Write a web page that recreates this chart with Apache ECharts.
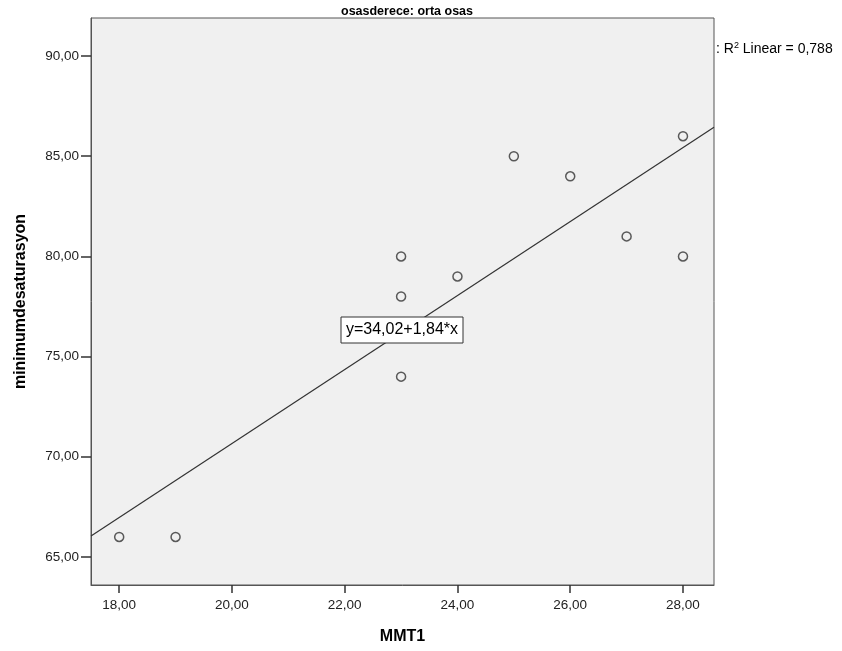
<!DOCTYPE html>
<html>
<head>
<meta charset="utf-8">
<script src="https://cdn.jsdelivr.net/npm/echarts@6/dist/echarts.min.js"></script>
<style>
  html, body { margin: 0; padding: 0; background: #fff; }
  #chart { width: 842px; height: 651px; }
</style>
</head>
<body>
<div id="chart"></div>
<script>
// data
const mmt1 = [18, 19, 23, 23, 23, 24, 25, 26, 27, 28, 28];
const minDesat = [66, 66, 80, 78, 74, 79, 85, 84, 81, 86, 80];
const xTicks = [18, 20, 22, 24, 26, 28];
const yTicks = [65, 70, 75, 80, 85, 90];
// fit line end points (at the plot edges)
const fitX = [17.5, 28.55];
const fitY = [66.05, 86.45];
const fitLabel = 'y=34,02+1,84*x';
const r2Text = '0,788';

const points = mmt1.map((x, i) => [x, minDesat[i]]);
const fitData = fitX.map((x, i) => [x, fitY[i]]);

const fmt = v => v.toFixed(2).replace('.', ',');
const FONT = 'Liberation Sans, Arial, sans-serif';

let chart = echarts.init(document.getElementById('chart'));
chart.setOption({
  animation: false,
  textStyle: { fontFamily: FONT },
  title: {
    text: 'osasderece: orta osas',
    left: 402, top: 0, textAlign: 'center',
    textStyle: { fontSize: 12.5, fontWeight: 'bold', color: '#000' }
  },
  grid: {
    left: 91, right: 128, top: 18, bottom: 66,
    outerBoundsMode: 'none',
    show: true, backgroundColor: '#f0f0f0', borderColor: '#555', borderWidth: 1
  },
  xAxis: {
    type: 'value', min: 17.5, max: 28.55,
    name: 'MMT1', nameLocation: 'middle', nameGap: 44,
    nameTextStyle: { fontSize: 16, fontWeight: 'bold', color: '#000' },
    axisLine: { lineStyle: { color: '#555' } },
    axisTick: { show: true, length: 8, customValues: xTicks, lineStyle: { color: '#333', width: 1.5 } },
    axisLabel: { customValues: xTicks, formatter: fmt, fontSize: 13.5, color: '#222', margin: 13 },
    splitLine: { show: false }
  },
  yAxis: {
    type: 'value', min: 63.6, max: 91.9,
    name: 'minimumdesaturasyon', nameLocation: 'middle', nameGap: 62, nameRotate: 90,
    nameTextStyle: { fontSize: 16, fontWeight: 'bold', color: '#000' },
    axisLine: { show: true, lineStyle: { color: '#555' } },
    axisTick: { show: true, length: 10, customValues: yTicks, lineStyle: { color: '#333', width: 1.5 } },
    axisLabel: { customValues: yTicks, formatter: fmt, fontSize: 13.5, color: '#222', margin: 12 },
    splitLine: { show: false }
  },
  series: [
    {
      type: 'line', data: fitData, symbol: 'none', z: 2,
      lineStyle: { color: '#333', width: 1.2 }
    },
    {
      type: 'scatter', data: points, symbol: 'circle', symbolSize: 9, z: 3,
      itemStyle: { color: 'rgba(0,0,0,0)', borderColor: '#333', borderWidth: 1.5 }
    }
  ],
  graphic: [
    {
      type: 'rect', shape: { x: 341, y: 317, width: 122, height: 26 }, z: 10,
      style: { fill: '#fff', stroke: '#333', lineWidth: 1 }
    },
    {
      type: 'text', x: 402, y: 330, z: 11,
      style: { text: fitLabel, fontSize: 16, fill: '#000', align: 'center', verticalAlign: 'middle',
               fontFamily: FONT }
    },
    {
      type: 'text', x: 716, y: 49, z: 11,
      style: {
        text: ': R{sup|2} Linear = ' + r2Text,
        fontSize: 14, fill: '#000', verticalAlign: 'middle',
        fontFamily: FONT,
        rich: { sup: { fontSize: 9, verticalAlign: 'top', padding: [0, 0, 7, 0] } }
      }
    }
  ]
});
</script>
</body>
</html>
